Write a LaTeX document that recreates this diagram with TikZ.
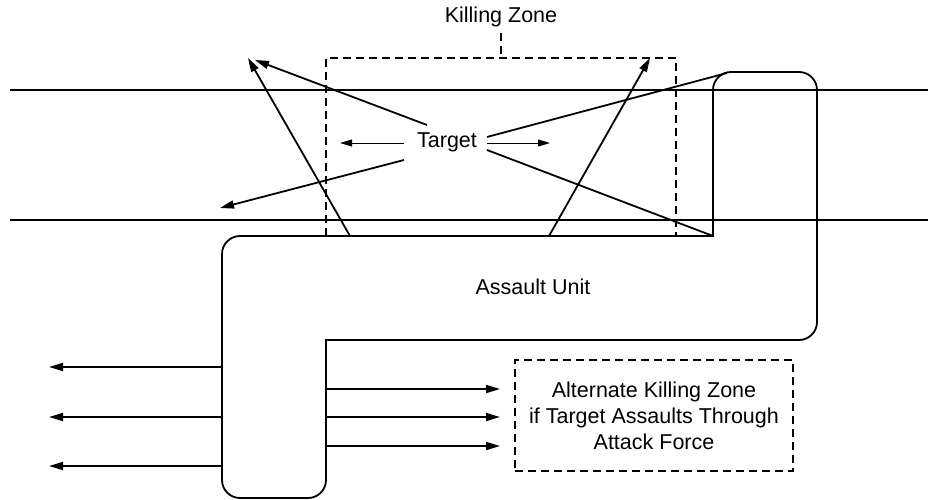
\documentclass[tikz,border=0pt]{standalone}
\usepackage{fontspec}
\setmainfont{Liberation Sans}
\usetikzlibrary{arrows.meta}
\begin{document}
\begin{tikzpicture}[x=1pt,y=-1pt,
  line width=1.8pt,
  lbl/.style={font=\fontsize{21.5}{26}\selectfont, inner sep=0pt, align=center},
  zone/.style={dash pattern=on 8pt off 5pt, line width=1.8pt},
  fire/.style={-{Triangle[length=14pt,width=8pt]}},
  thinfire/.style={line width=1pt, -{Triangle[length=12pt,width=7pt]}},
  unit/.style={rounded corners=18pt, line cap=rect}]
\useasboundingbox (0,0) rectangle (928,500);

% road edges
\coordinate (roadNw) at (10,90);  \coordinate (roadNe) at (928,90);
\coordinate (roadSw) at (10,220); \coordinate (roadSe) at (928,220);
\draw (roadNw) -- (roadNe);
\draw (roadSw) -- (roadSe);

% killing zone (dashed) with its label
\node[lbl] (kz) at (501,17) {Killing Zone};
\coordinate (kzTop) at (501,58);
\draw[zone] (501,33) -- (kzTop);
\draw[zone] (326,236) -- (326,58) -- (676,58) -- (676,236);

% assault unit outline
\coordinate (auTopIn) at (713,236);
\coordinate (auBotIn) at (326,340);
\draw[unit] (auBotIn) -- (326,498) -- (222,498) -- (222,236) -- (auTopIn);
\draw[unit] (auTopIn) -- (713,72) -- (817,72) -- (817,340) -- (auBotIn);
\coordinate (auCorner) at (727,73);
\node[lbl] (au) at (533,287) {Assault Unit};

% target and lines of fire
\node[lbl] (tg) at (447,142) {Target};
\coordinate (tgUL) at (427,125);
\coordinate (tgLL) at (404,160);
\coordinate (tgL)  at (404,143);
\coordinate (tgR)  at (487,143);
\coordinate (tgUR) at (487,137);
\coordinate (tgLR) at (487,150);
\coordinate (f1) at (255,60);
\coordinate (f2) at (248,58);
\coordinate (f3) at (220,208);
\coordinate (f4) at (650,58);
\coordinate (tL) at (340,143);
\coordinate (tR) at (550,143);
\coordinate (s1) at (350,236);
\coordinate (s2) at (549,236);

\draw[fire] (tgUL) -- (f1);
\draw[fire] (s1) -- (f2);
\draw[fire] (tgLL) -- (f3);
\draw[fire] (s2) -- (f4);
\draw[thinfire] (tgL) -- (tL);
\draw[thinfire] (tgR) -- (tR);
\draw (tgUR) -- (auCorner);
\draw (tgLR) -- (auTopIn);

% fire to the left
\foreach \yy/\nm in {367/a,417/b,466/c}{
  \coordinate (w\nm) at (222,\yy);
  \coordinate (wt\nm) at (49,\yy);
  \draw[fire] (w\nm) -- (wt\nm);
}

% alternate killing zone
\node[lbl, draw, zone, minimum width=278pt, minimum height=111pt] (alt) at (654,415.5)
  {Alternate Killing Zone\\if Target Assaults Through\\Attack Force};
\foreach \yy/\nm in {389/a,417/b,446/c}{
  \coordinate (e\nm) at (326,\yy);
  \coordinate (et\nm) at (500,\yy);
  \draw[fire] (e\nm) -- (et\nm);
}
\end{tikzpicture}
\end{document}
